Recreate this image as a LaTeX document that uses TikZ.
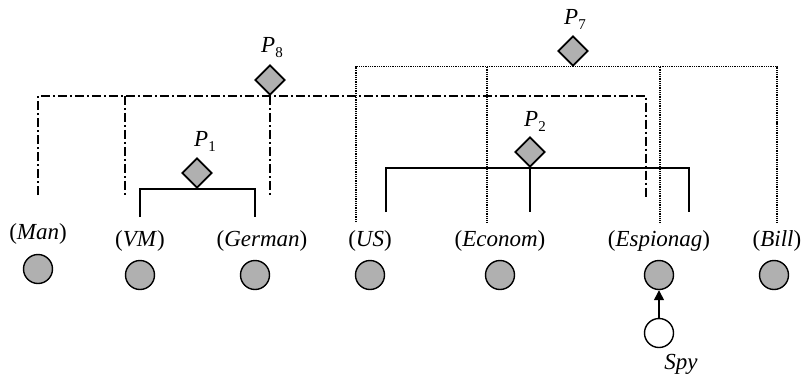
\documentclass[tikz,border=0pt]{standalone}
\usepackage{fontspec}
\setmainfont{Liberation Serif}
\usetikzlibrary{shapes.geometric,arrows.meta}
\definecolor{entgray}{RGB}{176,176,176}
\newcommand{\plab}[1]{\textit{P}\raisebox{-0.22em}{\fontsize{15}{15}\selectfont #1}}
\begin{document}
\begin{tikzpicture}[x=1pt,y=-1pt,
  ent/.style={circle,draw,line width=1.4pt,fill=entgray,minimum size=29pt,inner sep=0pt},
  spyent/.style={circle,draw,line width=1.4pt,fill=white,minimum size=29pt,inner sep=0pt},
  rel/.style={diamond,draw,line width=1.7pt,fill=entgray,minimum width=30pt,minimum height=30pt,inner sep=0pt},
  lab/.style={font=\fontsize{23}{27}\selectfont,inner sep=0pt},
  solidl/.style={line width=1.5pt},
  dashdotl/.style={line width=1.6pt,dash pattern=on 9pt off 3pt on 2pt off 3pt},
  dotl/.style={line width=1.2pt,dash pattern=on 1pt off 0.8pt}]
\useasboundingbox (0,0) rectangle (805,375);

% entities
\node[ent] (man) at (38,269) {};
\node[ent] (vm) at (140,275) {};
\node[ent] (ger) at (255,275) {};
\node[ent] (us) at (370,275) {};
\node[ent] (eco) at (500,275) {};
\node[ent] (esp) at (659,275) {};
\node[ent] (bill) at (774,275) {};
\node[spyent] (spy) at (659,333) {};

% labels
\node[lab] (lman) at (38,234) {(\textit{Man})};
\node[lab] (lvm) at (140,241) {(\textit{VM})};
\node[lab] (lger) at (262,241) {(\textit{German})};
\node[lab] (lus) at (370,241) {(\textit{US})};
\node[lab] (leco) at (500,241) {(\textit{Econom})};
\node[lab] (lesp) at (659,241) {(\textit{Espionag})};
\node[lab] (lbill) at (777,241) {(\textit{Bill})};
\node[lab] (lspy) at (681,364) {\textit{Spy}};

% relations
\node[rel] (p8) at (270,80) {};
\node[rel] (p1) at (197,173) {};
\node[rel] (p7) at (573,51) {};
\node[rel] (p2) at (530,152) {};
\node[lab] (lp8) at (272,48) {\plab{8}};
\node[lab] (lp1) at (205,141) {\plab{1}};
\node[lab] (lp7) at (575,19) {\plab{7}};
\node[lab] (lp2) at (535,121) {\plab{2}};

% P8 dash-dot
\coordinate (e8a) at (38,195);
\coordinate (e8b) at (125,195);
\coordinate (e8c) at (270,197);
\coordinate (e8d) at (646,197);
\draw[dashdotl] (e8a) -- (e8a |- p8.south) -- (e8d |- p8.south) -- (e8d);
\draw[dashdotl] (e8b |- p8.south) -- (e8b);
\draw[dashdotl] (p8.south) -- (e8c);

% P7 dotted
\coordinate (e7a) at (356,222);
\coordinate (e7b) at (487,222);
\coordinate (e7c) at (660,222);
\coordinate (e7d) at (777,222);
\draw[dotl] (e7a) -- (e7a |- p7.south) -- (e7d |- p7.south) -- (e7d);
\draw[dotl] (e7b |- p7.south) -- (e7b);
\draw[dotl] (e7c |- p7.south) -- (e7c);

% P2 solid
\coordinate (e2a) at (386,212);
\coordinate (e2b) at (530,212);
\coordinate (e2c) at (689,212);
\draw[solidl] (e2a) -- (e2a |- p2.south) -- (e2c |- p2.south) -- (e2c);
\draw[solidl] (p2.south) -- (e2b);

% P1 solid
\coordinate (e1a) at (140,217);
\coordinate (e1b) at (255,217);
\draw[solidl] (e1a) -- (e1a |- p1.south) -- (e1b |- p1.south) -- (e1b);

% spy arrow
\draw[line width=1.4pt,-{Triangle[length=10pt,width=10pt]}] (spy) -- (esp);
\end{tikzpicture}
\end{document}
